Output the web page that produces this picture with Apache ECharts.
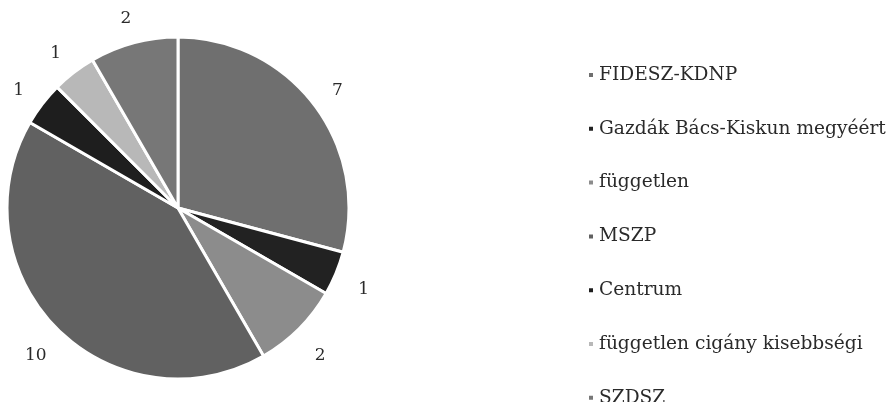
<!DOCTYPE html>
<html>
<head>
<meta charset="utf-8">
<script src="https://cdn.jsdelivr.net/npm/echarts@6/dist/echarts.min.js"></script>
<style>html,body{margin:0;padding:0;background:#fff}#c{width:894px;height:402px}</style>
</head>
<body>
<div id="c"></div>
<script>
var categories = ['FIDESZ-KDNP', 'Gazdák Bács-Kiskun megyéért', 'független', 'MSZP', 'Centrum', 'független cigány kisebbségi', 'SZDSZ'];
var values = [7, 1, 2, 10, 1, 1, 2];
var colors = ['#6f6f6f', '#222222', '#8c8c8c', '#616161', '#1e1e1e', '#b8b8b8', '#777777'];

var data = categories.map(function (n, i) { return { name: n, value: values[i], itemStyle: { color: colors[i] } }; });
var labelData = categories.map(function (n, i) { return { name: n, value: values[i] }; });

var chart = echarts.init(document.getElementById('c'), null, { renderer: 'canvas' });
chart.setOption({
  animation: false,
  backgroundColor: '#fff',
  legend: {
    orient: 'vertical',
    left: 582,
    top: 59,
    height: 380,
    icon: 'rect',
    itemWidth: 6,
    itemHeight: 6,
    itemGap: 31.8,
    selectedMode: false,
    data: categories,
    textStyle: { fontFamily: 'DejaVu Serif', fontSize: 18.6, color: '#2a2a2a', lineHeight: 22 }
  },
  series: [
    {
      type: 'pie',
      center: [178, 208],
      radius: [0, 171],
      startAngle: 90,
      clockwise: true,
      silent: true,
      label: { show: false },
      labelLine: { show: false },
      itemStyle: { borderColor: '#fff', borderWidth: 3 },
      data: data
    },
    {
      type: 'pie',
      center: [178, 208],
      radius: [188, 208],
      startAngle: 90,
      clockwise: true,
      silent: true,
      itemStyle: { color: 'rgba(0,0,0,0)' },
      label: {
        show: true,
        position: 'inside',
        formatter: '{c}',
        fontFamily: 'DejaVu Serif',
        fontSize: 17,
        color: '#2a2a2a',
        offset: [0, 5]
      },
      labelLine: { show: false },
      data: labelData
    }
  ]
});
</script>
</body>
</html>
